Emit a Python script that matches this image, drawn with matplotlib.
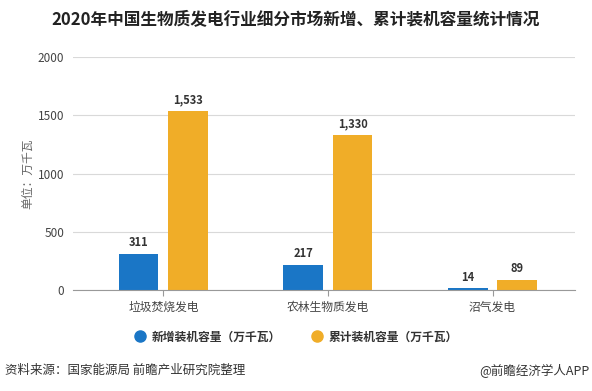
import matplotlib.pyplot as plt
from matplotlib.lines import Line2D
import numpy as np

plt.rcParams['font.family'] = ['Noto Sans CJK SC', 'DejaVu Sans']

categories = ['垃圾焚烧发电', '农林生物质发电', '沼气发电']
new_cap = [311, 217, 14]
total_cap = [1533, 1330, 89]
series_names = ['新增装机容量（万千瓦）', '累计装机容量（万千瓦）']
colors = ['#1a76c6', '#f0ad28']

fig = plt.figure(figsize=(5.92, 3.91), dpi=100)
ax = fig.add_axes([0.123, 0.258, 0.848, 0.596])

x = np.arange(len(categories))
w = 0.24
b1 = ax.bar(x - 0.15, new_cap, w, color=colors[0])
b2 = ax.bar(x + 0.15, total_cap, w, color=colors[1])

for bars, vals in ((b1, new_cap), (b2, total_cap)):
    for r, v in zip(bars, vals):
        ax.text(r.get_x() + r.get_width() / 2, v + 40, f'{v:,}',
                ha='center', va='bottom', fontsize=8, fontweight='bold', color='#333333')

ax.set_xlim(-0.55, 2.5)
ax.set_ylim(0, 2000)
ax.set_yticks([0, 500, 1000, 1500, 2000])
ax.yaxis.grid(True, color='#d9d9d9', linewidth=0.8)
ax.set_axisbelow(True)
for s in ['top', 'right', 'left']:
    ax.spines[s].set_visible(False)
ax.spines['bottom'].set_color('#999999')
ax.tick_params(axis='y', length=0, labelsize=8.5, labelcolor='#444444', pad=6)
ax.tick_params(axis='x', length=4, color='#999999', labelsize=8.5, labelcolor='#444444')
ax.set_xticks(x)
ax.set_xticklabels(categories)
ax.set_ylabel('单位：万千瓦', fontsize=8.5, color='#666666', labelpad=3)

fig.text(0.5, 0.952, '2020年中国生物质发电行业细分市场新增、累计装机容量统计情况',
         ha='center', va='center', fontsize=12, fontweight='bold', color='#222222')

handles = [Line2D([], [], marker='o', linestyle='none', markersize=8,
                  markerfacecolor=c, markeredgecolor=c) for c in colors]
leg = fig.legend(handles=handles, labels=series_names, loc='center',
                 bbox_to_anchor=(0.5, 0.138), ncol=2, frameon=False, fontsize=8.5,
                 handlelength=1.0, columnspacing=2.6, handletextpad=0.5)
for t in leg.get_texts():
    t.set_fontweight('bold')
    t.set_color('#333333')

fig.text(0.008, 0.052, '资料来源：国家能源局 前瞻产业研究院整理', ha='left', va='center',
         fontsize=9, color='#333333')
fig.text(0.995, 0.052, '@前瞻经济学人APP', ha='right', va='center',
         fontsize=9, color='#333333')

fig.savefig('out.png', dpi=100)
